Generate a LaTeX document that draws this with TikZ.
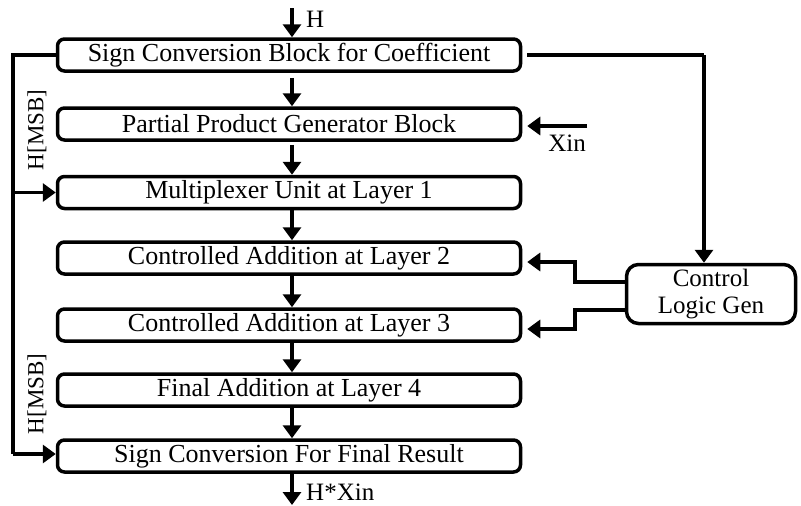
\documentclass[tikz,border=0pt]{standalone}
\usepackage{fontspec}
\setmainfont{Liberation Serif}
\usetikzlibrary{arrows.meta}
\begin{document}
\begin{tikzpicture}[x=1pt,y=-1pt,
  blk/.style={draw,line width=3.5pt,rounded corners=7pt,minimum width=463pt,minimum height=32pt,inner sep=0pt,font=\fontsize{26}{28}\selectfont},
  ctl/.style={draw,line width=3.5pt,rounded corners=12pt,minimum width=169pt,minimum height=59pt,inner sep=0pt,align=center,font=\fontsize{25}{27}\selectfont},
  con/.style={line width=3.5pt,-{Triangle[length=13pt,width=18pt]}},
  wire/.style={line width=3.5pt},
  lbl/.style={font=\fontsize{25}{27}\selectfont,inner sep=0pt},
  vlbl/.style={font=\fontsize{23}{25}\selectfont,inner sep=0pt,rotate=90}]
\useasboundingbox (0,0) rectangle (801,506);
\node[blk] (b1) at (289,55) {Sign Conversion Block for Coefficient};
\node[blk] (b2) at (289,124) {Partial Product Generator Block};
\node[blk] (b3) at (289,192.5) {Multiplexer Unit at Layer 1};
\node[blk] (b4) at (289,258) {Controlled Addition at Layer 2};
\node[blk] (b5) at (289,325) {Controlled Addition at Layer 3};
\node[blk] (b6) at (289,390) {Final Addition at Layer 4};
\node[blk] (b7) at (289,456) {Sign Conversion For Final Result};
\node[ctl] (ctrl) at (711,294) {Control\\Logic Gen};
% top input
\coordinate (hin) at (292,8);
\node[lbl,anchor=west] (hl) at (306,19) {H};
\draw[con] (hin) -- (hin |- b1.north);
% bottom output
\coordinate (hout) at (292,505);
\node[lbl,anchor=west] (hxl) at (306,492) {H*Xin};
\draw[con] (hout |- b7.south) -- (hout);
% vertical chain
\draw[con,shorten <=5pt] ([xshift=3pt]b1.south) -- ([xshift=3pt]b2.north);
\draw[con,shorten <=3pt] ([xshift=3pt]b2.south) -- ([xshift=3pt]b3.north);
\draw[con] ([xshift=3pt]b3.south) -- ([xshift=3pt]b4.north);
\draw[con] ([xshift=3pt]b4.south) -- ([xshift=3pt]b5.north);
\draw[con] ([xshift=3pt]b5.south) -- ([xshift=3pt]b6.north);
\draw[con] ([xshift=3pt]b6.south) -- ([xshift=3pt]b7.north);
% Xin
\coordinate (xin) at (587,126);
\draw[con] (xin) -- ([xshift=5pt]b2.east |- xin);
\node[lbl] (xl) at (567,143) {Xin};
% left feedback
\coordinate (lt) at (13,55);
\coordinate (lb) at (13,454);
\draw[wire] (b1.west) -- (lt) -- (lb);
\draw[con] (lb) -- (b7.west |- lb);
\draw[con] (lt |- b3.west) -- (b3.west);
\node[vlbl] (m1) at (37,130) {H[MSB]};
\node[vlbl] (m2) at (37,394) {H[MSB]};
% right to control
\coordinate (rt) at (704,55);
\draw[wire,shorten <=5pt] (b1.east) -- (rt);
\draw[con] (rt) -- (rt |- ctrl.north);
% control outputs
\coordinate (k1) at (575,282);
\coordinate (k2) at (575,310);
\draw[con] (ctrl.west |- k1) -- (k1) -- (575,262) -- ([xshift=5pt]b4.east |- 0,262);
\draw[con] (ctrl.west |- k2) -- (k2) -- (575,329) -- ([xshift=5pt]b5.east |- 0,329);
\end{tikzpicture}
\end{document}
